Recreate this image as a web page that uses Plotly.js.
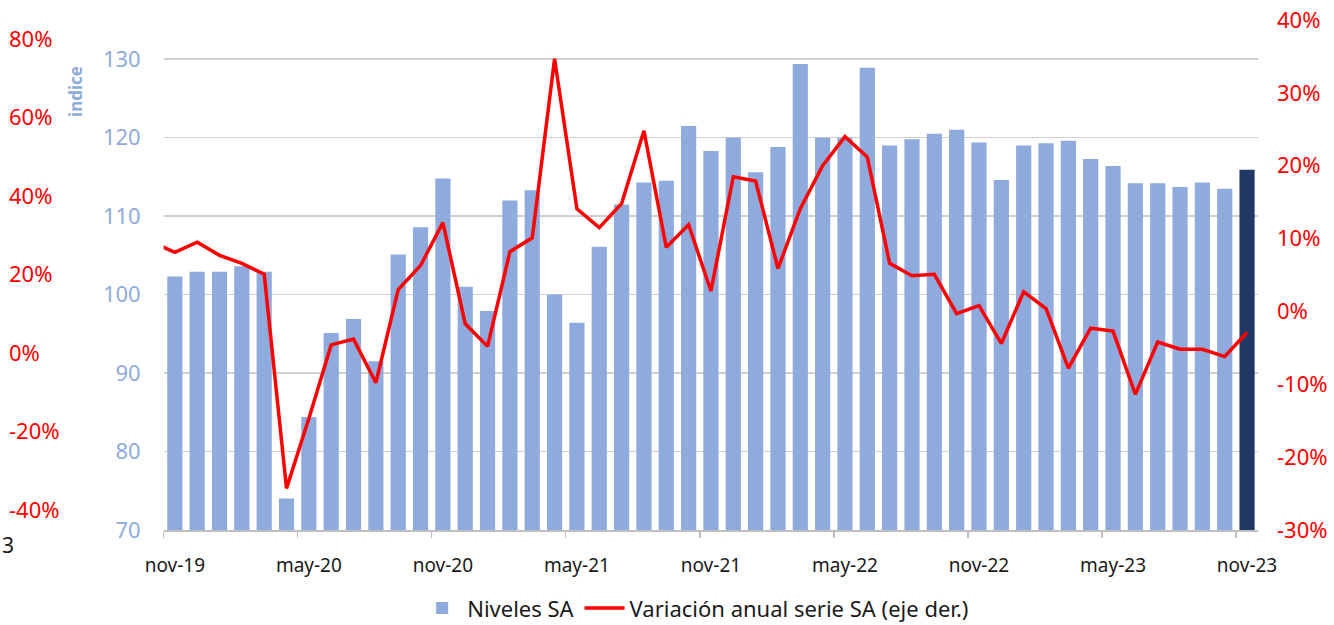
<!DOCTYPE html>
<html>
<head>
<meta charset="utf-8">
<script src="https://cdn.plot.ly/plotly-3.0.1.min.js"></script>
<style>
  html, body { margin: 0; padding: 0; background: #fff; }
  #chart { width: 1334px; height: 625px; }
</style>
</head>
<body>
<div id="chart"></div>
<script>
// months nov-19 .. nov-23 (bars), the line also has oct-19 which is clipped at the left edge
var meses = ['nov-19','dic-19','ene-20','feb-20','mar-20','abr-20','may-20','jun-20','jul-20','ago-20','sep-20','oct-20',
             'nov-20','dic-20','ene-21','feb-21','mar-21','abr-21','may-21','jun-21','jul-21','ago-21','sep-21','oct-21',
             'nov-21','dic-21','ene-22','feb-22','mar-22','abr-22','may-22','jun-22','jul-22','ago-22','sep-22','oct-22',
             'nov-22','dic-22','ene-23','feb-23','mar-23','abr-23','may-23','jun-23','jul-23','ago-23','sep-23','oct-23',
             'nov-23'];

// Niveles SA (indice)
var niveles = [102.3, 102.9, 102.9, 103.6, 102.9, 74.0, 84.4, 95.1, 96.9, 91.5, 105.1, 108.6,
               114.8, 101.0, 97.9, 112.0, 113.3, 100.0, 96.4, 106.1, 111.5, 114.3, 114.5, 121.5,
               118.3, 120.0, 115.6, 118.8, 129.4, 120.0, 120.0, 128.9, 119.0, 119.8, 120.5, 121.0,
               119.4, 114.6, 119.0, 119.3, 119.6, 117.3, 116.4, 114.2, 114.2, 113.7, 114.3, 113.5,
               115.9];

// Variacion anual serie SA (%), first value is oct-19
var variacion = [9.5,
                 8.1, 9.5, 7.7, 6.6, 5.1, -24.3, -14.7, -4.6, -3.8, -9.8, 3.0, 6.3,
                 12.2, -1.7, -4.8, 8.2, 10.1, 34.7, 14.1, 11.5, 14.8, 24.8, 8.8, 11.9,
                 2.8, 18.5, 17.9, 5.9, 14.1, 20.0, 24.0, 21.2, 6.6, 4.9, 5.1, -0.3,
                 0.8, -4.4, 2.7, 0.4, -7.8, -2.3, -2.7, -11.4, -4.2, -5.2, -5.2, -6.2,
                 -2.9];

// tick values of the right axis and of the stray far-left axis
var ticksDer = [-30, -20, -10, 0, 10, 20, 30, 40];
var ticksIzq = [-40, -20, 0, 20, 40, 60, 80];

var xBar = [], xLin = [], colores = [];
for (var i = 0; i < niveles.length; i++) {
  xBar.push(i);
  colores.push(i == niveles.length - 1 ? '#203864' : '#8FAADC');
}
for (var j = 0; j < variacion.length; j++) xLin.push(j - 1);

var labVals = [], labText = [];
for (var k = 0; k < meses.length; k += 6) { labVals.push(k); labText.push(meses[k]); }

function pct(v) { return v + '%'; }

var barras = {
  x: xBar, y: niveles, type: 'bar', name: 'Niveles SA',
  marker: {color: colores, line: {width: 0}},
  width: 0.68, hoverinfo: 'y'
};
var linea = {
  x: xLin, y: variacion, type: 'scatter', mode: 'lines', yaxis: 'y2',
  name: 'Variación anual serie SA (eje der.)',
  line: {color: '#FF0000', width: 3.5}, cliponaxis: true
};
// helper so the stray far-left axis gets drawn
var fantasma = {
  x: [0], y: [0], yaxis: 'y3', type: 'scatter', mode: 'markers',
  marker: {opacity: 0}, showlegend: false, hoverinfo: 'skip'
};

var fuente = 'Noto Sans, sans-serif';
var layout = {
  width: 1334, height: 625,
  margin: {l: 0, r: 76, t: 20, b: 95, autoexpand: false},
  paper_bgcolor: '#fff', plot_bgcolor: '#fff',
  font: {family: fuente},
  showlegend: true,
  legend: {
    orientation: 'h', x: 0.553, xanchor: 'center', y: -0.112, yanchor: 'top',
    font: {size: 22, color: '#1a1a1a'}, traceorder: 'normal', itemwidth: 40
  },
  bargap: 0.3,
  xaxis: {
    domain: [0.1301, 1],
    range: [-0.5, 48.49],
    tickmode: 'array', tickvals: labVals, ticktext: labText,
    ticks: '', ticklabelstandoff: 18,
    tickfont: {size: 19, color: '#1a1a1a'},
    showgrid: false, zeroline: false,
    showline: true, linecolor: '#BFBFBF', linewidth: 1.5,
    minor: {tick0: -0.5, dtick: 6, ticks: 'outside', ticklen: 6, tickcolor: '#BFBFBF', tickwidth: 1.5, showgrid: false}
  },
  yaxis: {
    range: [70, 135], tick0: 70, dtick: 10,
    tickfont: {size: 22, color: '#8FAADC'},
    ticklabelstandoff: 22,
    showgrid: true, gridcolor: '#D0D0D0', gridwidth: 1.5,
    zeroline: false, showline: false, ticks: ''
  },
  yaxis2: {
    overlaying: 'y', side: 'right', anchor: 'x',
    range: [-30.02, 40.02], tickmode: 'array',
    tickvals: ticksDer, ticktext: ticksDer.map(pct),
    tickfont: {size: 22, color: '#FF0000'},
    ticklabelstandoff: 18,
    showgrid: false, zeroline: false, showline: false, ticks: ''
  },
  yaxis3: {
    overlaying: 'y', side: 'left', anchor: 'free', position: 0.004,
    range: [-45.1, 84.8], tickmode: 'array',
    tickvals: ticksIzq, ticktext: ticksIzq.map(pct),
    ticklabelposition: 'inside',
    tickfont: {size: 22, color: '#FF0000'},
    showgrid: false, zeroline: false, showline: false, ticks: ''
  },
  annotations: [
    {xref: 'paper', yref: 'paper', x: 0.06, y: 0.86, xanchor: 'center', yanchor: 'middle',
     text: '<b>indice</b>', textangle: -90, showarrow: false,
     font: {size: 17, color: '#8FAADC'}},
    {xref: 'paper', yref: 'paper', x: 0, y: -0.03, xanchor: 'left', yanchor: 'middle',
     text: '3', showarrow: false, font: {size: 21, color: '#1a1a1a'}}
  ]
};

Plotly.newPlot('chart', [barras, linea, fantasma], layout, {displayModeBar: false, staticPlot: true});
</script>
</body>
</html>
